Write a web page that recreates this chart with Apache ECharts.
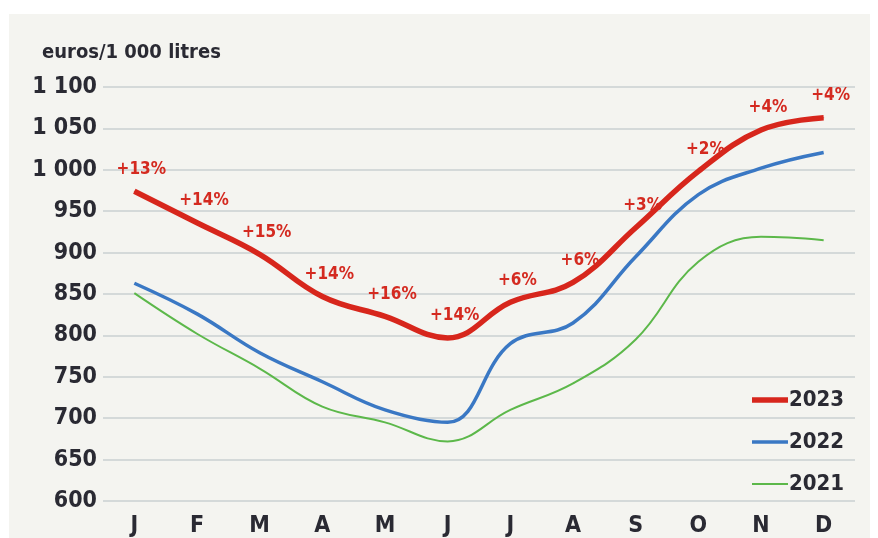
<!DOCTYPE html>
<html>
<head>
<meta charset="utf-8">
<script src="https://cdn.jsdelivr.net/npm/echarts@6/dist/echarts.min.js"></script>
<style>
  html, body { margin: 0; padding: 0; background: #ffffff; }
  #container { width: 878px; height: 538px; }
</style>
</head>
<body>
<div id="container"></div>
<script>
var months = ['J', 'F', 'M', 'A', 'M', 'J', 'J', 'A', 'S', 'O', 'N', 'D'];
var prix2023 = [974, 936, 898, 847, 823, 797, 840, 864, 930, 998, 1048, 1063];
var prix2022 = [863, 826, 779, 744, 710, 695, 790, 815, 895, 970, 1002, 1021];
var prix2021 = [851, 802, 760, 714, 695, 672, 710, 742, 795, 889, 919, 915];
var hausses = ['+13%', '+14%', '+15%', '+14%', '+16%', '+14%', '+6%', '+6%', '+3%', '+2%', '+4%', '+4%'];

var font = '"Liberation Sans Narrow", "DejaVu Sans Condensed", sans-serif';
var ink = '#2a2a33';

var myChart = echarts.init(document.getElementById('container'));

var option = {
    backgroundColor: '#ffffff',
    animation: false,
    graphic: [{
        type: 'rect',
        z: -100,
        silent: true,
        shape: { x: 9, y: 14, width: 861, height: 530 },
        style: { fill: '#f4f4f0' }
    }],
    title: {
        text: 'euros/1 000 litres',
        left: 37,
        top: 38,
        textStyle: {
            color: ink,
            fontFamily: font,
            fontWeight: 'bold',
            fontSize: 20
        }
    },
    legend: {
        orient: 'vertical',
        left: 747,
        top: 381,
        itemWidth: 36,
        itemHeight: 20,
        itemGap: 14,
        symbolKeepAspect: true,
        data: [
            { name: '2023', icon: 'path://M0,0H36V5.5H0Z' },
            { name: '2022', icon: 'path://M0,0H36V3.5H0Z' },
            { name: '2021', icon: 'path://M0,0H36V2H0Z' }
        ],
        textStyle: {
            color: ink,
            fontFamily: font,
            fontWeight: 'bold',
            fontSize: 22,
            lineHeight: 28,
            padding: [0, 0, 0, -4]
        }
    },
    grid: {
        left: 103,
        right: 23,
        top: 87,
        bottom: 37
    },
    xAxis: {
        type: 'category',
        boundaryGap: true,
        data: months,
        axisLine: { show: false },
        axisTick: { show: false },
        axisLabel: {
            margin: 14,
            color: ink,
            fontFamily: font,
            fontWeight: 'bold',
            fontSize: 23
        }
    },
    yAxis: {
        type: 'value',
        min: 600,
        max: 1100,
        interval: 50,
        axisLine: { show: false },
        axisTick: { show: false },
        splitLine: { lineStyle: { color: '#d4d9d9', width: 2 } },
        axisLabel: {
            margin: 6,
            color: ink,
            fontFamily: font,
            fontWeight: 'bold',
            fontSize: 23,
            formatter: function (v) {
                return String(v).replace(/\B(?=(\d{3})+(?!\d))/g, ' ');
            }
        }
    },
    series: [
        {
            name: '2021',
            type: 'line',
            data: prix2021,
            smooth: 0.4,
            symbol: 'none',
            color: '#5cb84a',
            lineStyle: { width: 2, color: '#5cb84a' },
            z: 2
        },
        {
            name: '2022',
            type: 'line',
            data: prix2022,
            smooth: 0.4,
            symbol: 'none',
            color: '#3a78c4',
            lineStyle: { width: 3.5, color: '#3a78c4' },
            z: 3
        },
        {
            name: '2023',
            type: 'line',
            data: prix2023,
            smooth: 0.4,
            symbol: 'circle',
            symbolSize: 1,
            showSymbol: true,
            color: '#d7261c',
            lineStyle: { width: 5.5, color: '#d7261c' },
            z: 4,
            label: {
                show: true,
                position: 'top',
                distance: 13,
                offset: [7, 0],
                color: '#d42a20',
                fontFamily: font,
                fontWeight: 'bold',
                fontSize: 17,
                formatter: function (p) { return hausses[p.dataIndex]; }
            }
        }
    ]
};

myChart.setOption(option, true);
window.onresize = function () {
    myChart.resize();
};
</script>
</body>
</html>
